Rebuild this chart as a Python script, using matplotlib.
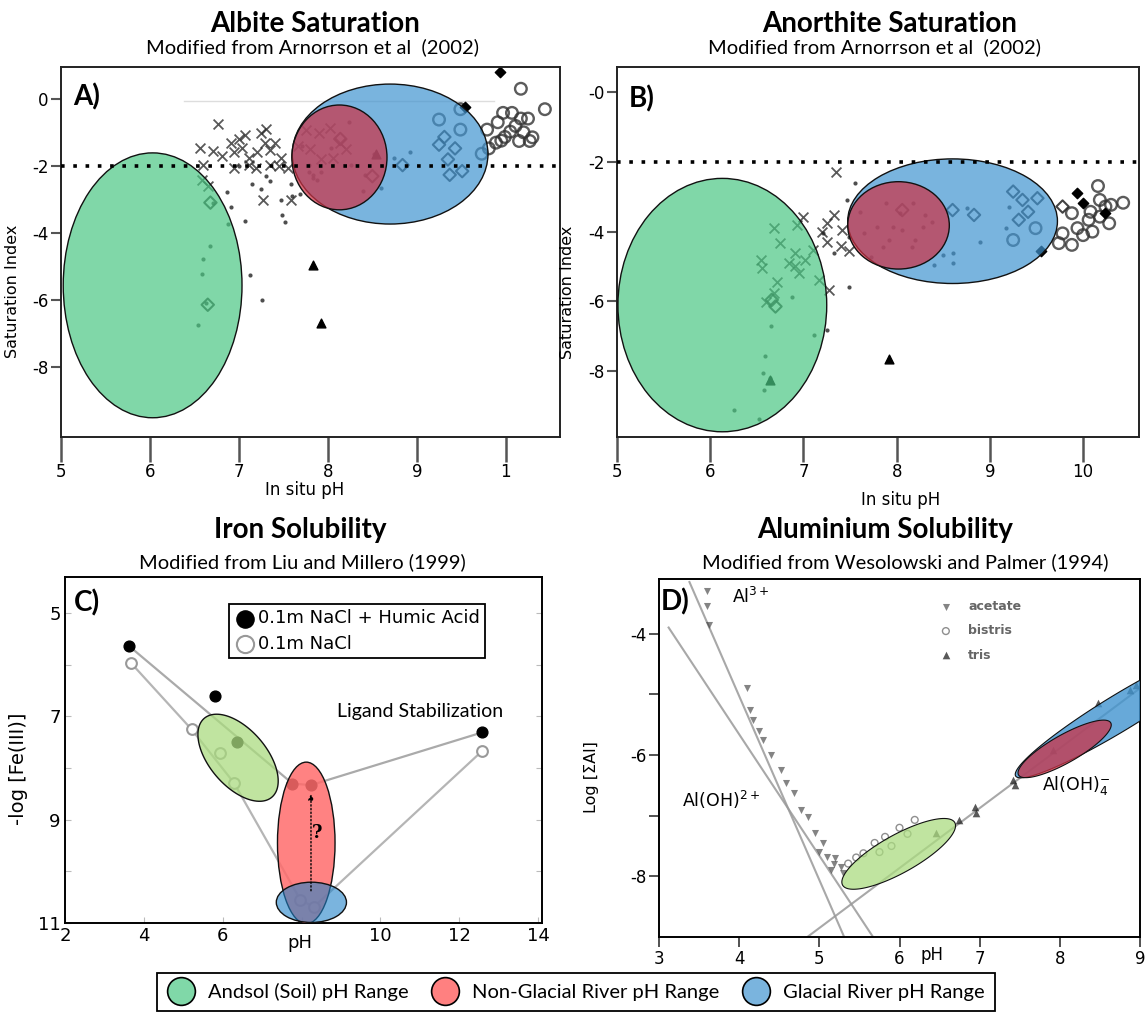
import numpy as np
import matplotlib
matplotlib.use('Agg')
from matplotlib import pyplot as plt
from matplotlib.patches import Ellipse, Polygon
from matplotlib.lines import Line2D

plt.rcParams['font.family'] = ['DejaVu Sans']

#[data] A) albite saturation index vs in situ pH
a_x_ph = [6.56, 6.71, 6.76, 6.91, 6.95, 7.03, 7.11, 7.25, 7.29, 7.35, 7.41, 7.47, 7.27, 7.59, 7.11,
          7.19, 6.95, 6.60, 6.58, 7.90, 8.02, 8.14, 8.06, 7.92, 7.67, 7.55, 6.81, 7.07, 7.35, 7.75,
          7.00, 7.20, 7.30, 7.45, 6.65, 7.80, 8.20]
a_x_si = [-1.48, -1.56, -0.76, -1.31, -1.59, -1.48, -1.76, -1.03, -1.31, -1.53, -1.31, -1.76, -3.03, -3.03, -1.98,
          -2.08, -2.08, -1.98, -2.42, -1.03, -0.87, -1.31, -1.76, -1.81, -1.42, -2.08, -1.70, -1.09, -1.98, -0.92,
          -1.20, -1.60, -0.90, -2.00, -2.60, -1.50, -1.50]
a_dot_ph = [6.87, 6.91, 7.07, 7.15, 7.25, 7.35, 7.47, 7.49, 7.52, 7.59, 7.69, 7.79, 7.83, 7.88, 8.24,
            8.40, 8.52, 8.60, 8.74, 8.92, 6.71, 6.67, 6.60, 6.58, 6.63, 6.54, 7.12, 7.26, 6.88, 7.71,
            7.79, 7.83, 7.92, 8.04, 8.26, 8.42, 8.54, 7.00, 7.30, 7.60]
a_dot_si = [-2.79, -3.22, -3.65, -2.55, -2.69, -2.46, -3.03, -3.46, -3.67, -2.55, -2.84, -1.98, -2.27, -2.42, -0.70,
            -2.74, -1.64, -2.65, -1.76, -1.59, -3.12, -4.40, -4.78, -5.24, -6.10, -6.76, -5.25, -6.00, -3.75, -1.42,
            -2.18, -2.36, -2.18, -1.48, -1.98, -2.27, -1.64, -2.00, -2.30, -2.90]
a_circ_ph = [9.25, 9.49, 9.73, 9.79, 9.91, 9.97, 10.07, 10.17, 10.25, 10.44, 10.17, 10.05, 10.15, 10.27, 9.89,
             9.81, 9.99, 10.11, 9.49, 10.20, 10.30, 9.95]
a_circ_si = [-0.62, -0.92, -1.64, -0.92, -0.70, -0.42, -0.42, -0.59, -0.59, -0.31, 0.30, -0.98, -1.26, -1.26, -1.31,
             -1.48, -1.14, -0.81, -0.31, -1.00, -1.15, -1.25]
a_dia_ph = [9.25, 9.35, 9.43, 9.37, 9.51, 8.84, 8.50, 8.14, 9.31, 6.68, 6.65]
a_dia_si = [-1.37, -1.81, -1.48, -2.27, -2.16, -1.98, -2.31, -1.20, -1.14, -3.10, -6.15]
a_fdia_ph = [9.94, 9.54]
a_fdia_si = [0.80, -0.23]
a_tri_ph = [7.83, 7.92, 8.54]
a_tri_si = [-4.95, -6.70, -1.64]

#[data] B) anorthite saturation index vs in situ pH
b_x_ph = [7.35, 6.68, 6.93, 6.75, 6.91, 6.54, 6.56, 6.91, 7.02, 7.10, 7.17, 6.72, 6.60, 6.68, 7.25,
          7.27, 7.33, 7.41, 7.25, 7.49, 7.00, 6.95, 6.85, 7.20, 7.40]
b_x_si = [-2.28, -3.90, -3.81, -4.34, -4.62, -4.81, -5.05, -5.00, -4.81, -4.53, -5.39, -5.44, -6.01, -5.77, -4.29,
          -5.67, -3.52, -3.95, -3.76, -4.57, -3.57, -5.20, -4.90, -4.00, -4.40]
b_dot_ph = [7.55, 7.47, 7.61, 7.65, 7.89, 8.04, 8.18, 8.30, 8.38, 8.20, 7.85, 7.73, 7.96, 8.40, 8.50,
            8.60, 8.60, 8.75, 8.89, 9.17, 9.55, 9.21, 7.49, 7.25, 6.88, 7.11, 6.65, 6.59, 6.57, 6.58,
            6.25, 6.52, 6.64, 7.33, 7.21, 7.49, 7.79, 7.92, 8.06, 8.16, 8.28]
b_dot_si = [-2.61, -3.09, -3.43, -4.05, -3.19, -3.47, -3.19, -3.52, -3.71, -4.24, -4.43, -4.72, -3.86, -4.96, -4.67,
            -4.91, -4.62, -3.33, -4.29, -3.90, -4.53, -3.28, -5.58, -6.82, -5.87, -6.97, -6.71, -7.57, -8.07, -8.55,
            -9.12, -9.39, -8.21, -4.62, -4.05, -4.14, -3.86, -4.24, -3.95, -4.43, -3.86]
b_circ_ph = [10.16, 10.43, 9.49, 9.25, 9.78, 9.74, 9.88, 9.94, 10.06, 10.00, 10.10, 10.18, 10.28, 10.24, 10.18,
             10.30, 9.88, 10.08]
b_circ_si = [-2.69, -3.17, -3.90, -4.24, -4.05, -4.33, -4.38, -3.90, -3.66, -4.10, -4.00, -3.57, -3.76, -3.28, -3.09,
             -3.23, -3.47, -3.43]
b_dia_ph = [9.25, 9.35, 9.51, 9.41, 9.31, 8.83, 8.60, 8.06, 6.66, 6.70, 9.78]
b_dia_si = [-2.85, -3.09, -3.04, -3.43, -3.66, -3.52, -3.38, -3.38, -5.96, -6.15, -3.28]
b_fdia_ph = [9.94, 10.00, 10.24, 9.55]
b_fdia_si = [-2.90, -3.19, -3.47, -4.57]
b_tri_ph = [7.92, 6.64]
b_tri_si = [-7.66, -8.26]

# pH range ellipses: (centre pH, centre value, width, height)
a_green = (6.03, -5.57, 2.01, 7.91)
a_blue = (8.70, -1.65, 2.20, 4.18)
a_red = (8.13, -1.75, 1.07, 3.13)
b_green = (6.13, -6.11, 2.24, 7.28)
b_blue = (8.60, -3.70, 2.25, 3.58)
b_red = (8.02, -3.82, 1.09, 2.51)

#[data] C) iron solubility
c_humic_ph = [3.63, 5.81, 6.37, 7.77, 8.24, 12.58]
c_humic_fe = [5.64, 6.60, 7.49, 8.30, 8.33, 7.31]
c_nacl_ph = [3.68, 5.21, 5.92, 6.28, 7.97, 8.31, 12.58]
c_nacl_fe = [5.97, 7.25, 7.71, 8.28, 10.55, 10.69, 7.67]
c_humic_line_ph = [3.63, 7.77, 8.24, 12.58]
c_humic_line_fe = [5.64, 8.30, 8.33, 7.31]
c_nacl_line_ph = [3.68, 5.21, 6.28, 7.97, 8.31, 12.58]
c_nacl_line_fe = [5.97, 7.25, 8.28, 10.55, 10.69, 7.67]
c_green = ((6.39, 7.80), (0.83, 0.78), (0.59, -0.32))   # centre, semi-axis, conjugate semi-axis
c_red = (8.12, 9.45, 1.46, 3.13)
c_blue = (8.25, 10.60, 1.78, 0.78)

#[data] D) aluminium solubility
d_acetate_ph = [3.60, 3.60, 3.62, 4.10, 4.13, 4.17, 4.25, 4.30, 4.40, 4.52, 4.59, 4.68, 4.77, 4.86, 4.95,
                5.05, 5.09, 5.18, 5.27, 5.00, 5.15, 5.30, 5.20]
d_acetate_al = [-3.30, -3.55, -3.85, -4.89, -5.26, -5.42, -5.60, -5.75, -6.00, -6.25, -6.46, -6.63, -6.91, -7.02, -7.29,
                -7.45, -7.68, -7.79, -7.85, -7.60, -7.90, -7.95, -7.70]
d_bistris_ph = [5.36, 5.46, 5.55, 5.69, 5.82, 6.00, 6.19, 5.90, 6.10, 5.75]
d_bistris_al = [-7.79, -7.69, -7.62, -7.45, -7.35, -7.20, -7.07, -7.50, -7.30, -7.60]
d_tris_ph = [6.46, 6.74, 6.94, 6.96, 7.42, 7.44, 7.92, 8.47, 8.88, 8.95]
d_tris_al = [-7.29, -7.07, -6.85, -6.95, -6.42, -6.50, -5.92, -5.15, -4.93, -4.85]
d_al3_ph, d_al3_al = [3.38, 5.31], [-3.15, -9.00]
d_aloh2_ph, d_aloh2_al = [3.12, 5.67], [-3.90, -9.00]
d_aloh4_ph, d_aloh4_al = [4.85, 9.00], [-9.00, -4.90]
d_green = ((5.99, -7.63), (0.70, 0.515), (0.114, -0.274))
d_red = ((8.06, -5.90), (0.575, 0.43), (0.086, -0.20))
d_blue = ((8.75, -5.30), (1.30, 1.05), (0.13, -0.24))

#[style]
GREEN = '#4ac783'
BLUE = '#4194d0'
RED_AB = '#cc3347'
W, H = 1146, 1019
fig = plt.figure(figsize=(W / 100, H / 100), dpi=100)


def px_axes(l, t, r, b):
    return fig.add_axes([l / W, 1 - b / H, (r - l) / W, (b - t) / H])


def add_ellipse(ax, e, color, alpha=0.7, lw=1.0):
    ax.add_patch(Ellipse((e[0], e[1]), e[2], e[3], facecolor=color, edgecolor='none', alpha=alpha, zorder=3))
    ax.add_patch(Ellipse((e[0], e[1]), e[2], e[3], facecolor='none', edgecolor='#111111', lw=lw, zorder=3))


def add_skew_ellipse(ax, e, color, alpha=0.7, lw=1.0):
    t = np.linspace(0, 2 * np.pi, 120)
    c, u, v = np.array(e[0]), np.array(e[1]), np.array(e[2])
    pts = c + np.outer(np.cos(t), u) + np.outer(np.sin(t), v)
    ax.add_patch(Polygon(pts, closed=True, facecolor=color, edgecolor='none', alpha=alpha, zorder=3))
    ax.add_patch(Polygon(pts, closed=True, facecolor='none', edgecolor='#111111', lw=lw, zorder=3))


def saturation_panel(ax, d, ells, xlim, ylim, yticklabels, xticklabels):
    ax.scatter(d['x'][0], d['x'][1], marker='x', s=50, color='#222222', alpha=0.75, lw=1.3, zorder=2)
    ax.scatter(d['dot'][0], d['dot'][1], marker='o', s=9, color='#222222', alpha=0.8, lw=0, zorder=2)
    ax.scatter(d['circ'][0], d['circ'][1], marker='o', s=70, facecolors='none', edgecolors='#333333',
               lw=1.7, alpha=0.8, zorder=2)
    ax.scatter(d['dia'][0], d['dia'][1], marker='D', s=40, facecolors='none', edgecolors='#222222',
               lw=1.5, alpha=0.85, zorder=2)
    ax.scatter(d['fdia'][0], d['fdia'][1], marker='D', s=28, color='black', zorder=2)
    ax.scatter(d['tri'][0], d['tri'][1], marker='^', s=40, color='black', zorder=2)
    add_ellipse(ax, ells[0], GREEN)
    add_ellipse(ax, ells[1], BLUE)
    add_ellipse(ax, ells[2], RED_AB, alpha=0.72)
    ax.axhline(-2, color='black', ls=(0, (1, 2.4)), lw=2.6, zorder=5)
    ax.set_xlim(*xlim)
    ax.set_ylim(*ylim)
    ax.set_xticks([5, 6, 7, 8, 9, 10])
    ax.set_xticklabels(xticklabels)
    ax.set_yticks([0, -2, -4, -6, -8])
    ax.set_yticklabels(yticklabels)
    ax.tick_params(axis='x', direction='out', length=18, width=1.8, color='#555555', labelsize=12, pad=1)
    ax.tick_params(axis='y', direction='out', length=7, width=1.5, color='#555555', labelsize=12, pad=2)
    for s in ax.spines.values():
        s.set_linewidth(1.4)
        s.set_color('#222222')


#[A]
axA = px_axes(61, 67, 560, 437)
axA.plot([6.38, 9.87], [-0.07, -0.07], color='#dddddd', lw=1, zorder=1)
saturation_panel(axA,
                 {'x': (a_x_ph, a_x_si), 'dot': (a_dot_ph, a_dot_si), 'circ': (a_circ_ph, a_circ_si),
                  'dia': (a_dia_ph, a_dia_si), 'fdia': (a_fdia_ph, a_fdia_si), 'tri': (a_tri_ph, a_tri_si)},
                 [a_green, a_blue, a_red], (5, 10.61), (-10.1, 0.95),
                 ['0', '-2', '-4', '-6', '-8'], ['5', '6', '7', '8', '9', '1'])
axA.set_ylabel('Saturation Index', fontsize=11.5)
axA.yaxis.set_label_coords(-0.082, 0.395)
axA.set_xlabel('In situ pH', fontsize=12)
axA.xaxis.set_label_coords(0.488, -0.12)
axA.text(0.025, 0.955, 'A)', transform=axA.transAxes, fontsize=20, fontweight='bold',
         family='Lato', va='top', ha='left', zorder=6)

#[B]
axB = px_axes(617, 67, 1139, 437)
saturation_panel(axB,
                 {'x': (b_x_ph, b_x_si), 'dot': (b_dot_ph, b_dot_si), 'circ': (b_circ_ph, b_circ_si),
                  'dia': (b_dia_ph, b_dia_si), 'fdia': (b_fdia_ph, b_fdia_si), 'tri': (b_tri_ph, b_tri_si)},
                 [b_green, b_blue, b_red], (5, 10.6), (-9.9, 0.73),
                 ['-0', '-2', '-4', '-6', '-8'], ['5', '6', '7', '8', '9', '10'])
axB.set_ylabel('Saturation Index', fontsize=11.5)
axB.yaxis.set_label_coords(-0.08, 0.39)
axB.set_xlabel('In situ pH', fontsize=12)
axB.xaxis.set_label_coords(0.544, -0.145)
axB.text(0.022, 0.95, 'B)', transform=axB.transAxes, fontsize=20, fontweight='bold',
         family='Lato', va='top', ha='left', zorder=6)

#[C]
axC = px_axes(65, 577, 542, 923)
axC.plot(c_humic_line_ph, c_humic_line_fe, color='#aaaaaa', lw=1.6, zorder=1)
axC.plot(c_nacl_line_ph, c_nacl_line_fe, color='#b5b5b5', lw=1.6, zorder=1)
h1 = axC.scatter(c_humic_ph, c_humic_fe, s=60, color='black', zorder=2)
h2 = axC.scatter(c_nacl_ph, c_nacl_fe, s=60, facecolors='white', edgecolors='#999999', lw=1.5, zorder=2)
add_skew_ellipse(axC, c_green, '#abdc80', alpha=0.75)
add_ellipse(axC, c_red, '#ff6c6c', alpha=0.85)
add_ellipse(axC, c_blue, '#2182c8', alpha=0.6)
axC.annotate('', xy=(8.24, 8.45), xytext=(8.24, 10.43),
             arrowprops=dict(arrowstyle='-|>', ls=':', color='black', lw=1, mutation_scale=8), zorder=6)
axC.text(8.40, 9.26, '?', fontsize=13, fontweight='bold', family='DejaVu Serif', ha='center', va='center', zorder=6)
axC.text(8.90, 6.91, 'Ligand Stabilization', fontsize=14, family='Lato', ha='left', va='center')
axC.set_xlim(2, 14.1)
axC.set_ylim(11.0, 4.3)
axC.set_xticks([2, 4, 6, 8, 10, 12, 14])
axC.set_xticklabels(['2', '4', '6', '', '10', '12', '14'])
axC.set_yticks([5, 6, 7, 8, 9, 10, 11])
axC.set_yticklabels(['5', '', '7', '', '9', '', '11'])
axC.tick_params(direction='in', length=4, color='#bbbbbb', labelsize=13, pad=3, right=True)
for s in axC.spines.values():
    s.set_linewidth(1.4)
axC.text(0.493, -0.058, 'pH', transform=axC.transAxes, fontsize=13, ha='center', va='center')
axC.set_ylabel('-log [Fe(III)]', fontsize=14)
axC.yaxis.set_label_coords(-0.078, 0.445)
axC.text(0.018, 0.965, 'C)', transform=axC.transAxes, fontsize=20, fontweight='bold',
         family='Lato', va='top', ha='left', zorder=6)
leg = axC.legend([h1, h2], ['0.1m NaCl + Humic Acid', '0.1m NaCl'], loc='upper left',
                 bbox_to_anchor=(0.344, 0.922), borderaxespad=0, fontsize=13, fancybox=False,
                 edgecolor='black', handletextpad=0.1, borderpad=0.3, labelspacing=0.4, handlelength=1.2,
                 markerscale=1.6, framealpha=1)
leg.get_frame().set_linewidth(1.3)

#[D]
axD = px_axes(659, 579, 1140, 937)
for lx, ly in [(d_al3_ph, d_al3_al), (d_aloh2_ph, d_aloh2_al), (d_aloh4_ph, d_aloh4_al)]:
    axD.plot(lx, ly, color='#999999', lw=1.5, alpha=0.85, zorder=1)
ha = axD.scatter(d_acetate_ph, d_acetate_al, marker='v', s=26, color='#333333', alpha=0.6, lw=0, zorder=2)
hb = axD.scatter(d_bistris_ph, d_bistris_al, marker='o', s=24, facecolors='none', edgecolors='#444444',
                 alpha=0.6, lw=1, zorder=2)
hc = axD.scatter(d_tris_ph, d_tris_al, marker='^', s=30, color='#222222', alpha=0.75, lw=0, zorder=2)
add_skew_ellipse(axD, d_green, '#abdc80', alpha=0.75, lw=0.8)
add_skew_ellipse(axD, d_blue, BLUE, alpha=0.8, lw=0.8)
add_skew_ellipse(axD, d_red, RED_AB, alpha=0.75, lw=0.8)
axD.set_xlim(3, 9)
axD.set_ylim(-9.0, -3.1)
axD.set_xticks([3, 4, 5, 6, 7, 8, 9])
axD.set_yticks([-4, -5, -6, -7, -8])
axD.set_yticklabels(['-4', '', '-6', '', '-8'])
axD.tick_params(direction='out', length=7, width=1.2, color='#333333', labelsize=12, pad=2)
for s in axD.spines.values():
    s.set_linewidth(1.4)
axD.text((932 - 659) / 481, -0.05, 'pH', transform=axD.transAxes, fontsize=12, ha='center', va='center')
axD.set_ylabel('Log [\u03a3Al]', fontsize=11.5)
axD.yaxis.set_label_coords(-0.125, 0.447)
axD.text(0.004, 0.975, 'D)', transform=axD.transAxes, fontsize=20, fontweight='bold',
         family='Lato', va='top', ha='left', zorder=6)
axD.text(3.91, -3.39, 'Al$^{3+}$', fontsize=12.5, ha='left', va='center')
axD.text(3.29, -6.74, 'Al(OH)$^{2+}$', fontsize=12.5, ha='left', va='center')
axD.text(7.78, -6.50, 'Al(OH)$_4^{-}$', fontsize=12.5, ha='left', va='center', zorder=6)
legD = axD.legend([ha, hb, hc], ['acetate', 'bistris', 'tris'], loc='upper left', bbox_to_anchor=(0.56, 0.955),
                  frameon=False, fontsize=9, handletextpad=0.8, labelspacing=0.9, borderaxespad=0)
for t in legD.get_texts():
    t.set_color('#666666')
    t.set_fontweight('bold')

#[titles]
for x, y, txt, fs, fw in [(315, 24, 'Albite Saturation', 20, 'bold'),
                          (312, 47, 'Modified from Arnorrson et al  (2002)', 14.5, 'normal'),
                          (890, 24, 'Anorthite Saturation', 20, 'bold'),
                          (875, 47, 'Modified from Arnorrson et al  (2002)', 14.5, 'normal'),
                          (300, 530, 'Iron Solubility', 20, 'bold'),
                          (302, 562, 'Modified from Liu and Millero (1999)', 14.5, 'normal'),
                          (885, 530, 'Aluminium Solubility', 20, 'bold'),
                          (905, 562, 'Modified from Wesolowski and Palmer (1994)', 14.5, 'normal')]:
    fig.text(x / W, 1 - y / H, txt, fontsize=fs, fontweight=fw, family='Lato', ha='center', va='center')

#[legend]
range_handles = [Line2D([], [], ls='none', marker='o', markersize=20, markerfacecolor=c,
                        markeredgecolor='black', markeredgewidth=1.2)
                 for c in ['#80d8a8', '#ff8080', '#7ab4de']]
fleg = fig.legend(range_handles, ['Andsol (Soil) pH Range', 'Non-Glacial River pH Range', 'Glacial River pH Range'],
                  loc='upper left', bbox_to_anchor=(157 / W, 1 - 973 / H), ncol=3, fancybox=False,
                  edgecolor='black', framealpha=1, prop={'family': 'Lato', 'size': 14.5},
                  handletextpad=0.65, columnspacing=1.1, borderpad=0.5, handlelength=1.4,
                  borderaxespad=0)
fleg.get_frame().set_linewidth(1.3)

fig.savefig('out.png', dpi=100)
